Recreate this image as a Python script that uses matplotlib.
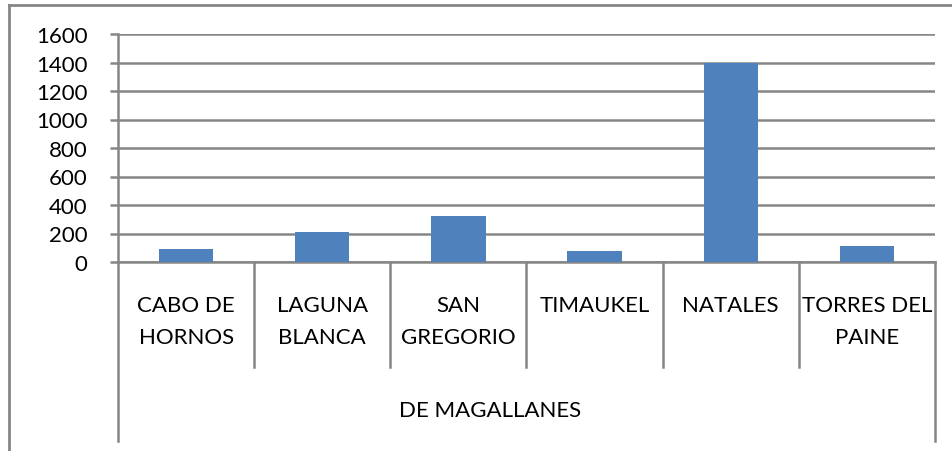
import matplotlib.pyplot as plt
from matplotlib.lines import Line2D

# data
comunas = ["CABO DE\nHORNOS", "LAGUNA\nBLANCA", "SAN\nGREGORIO", "TIMAUKEL", "NATALES", "TORRES DEL\nPAINE"]
valores = [94, 213, 321, 77, 1396, 112]
region = "DE MAGALLANES"
yticks = [0, 200, 400, 600, 800, 1000, 1200, 1400, 1600]

W, H = 953, 452
GRAY = "#868686"
BLUE = "#4F81BD"
plt.rcParams['font.family'] = ['Lato', 'DejaVu Sans']

fig = plt.figure(figsize=(W / 100, H / 100), dpi=100)

# plot area in pixel coordinates of the reference
left, right, top, bottom = 118, 935, 35, 263
ax = fig.add_axes([left / W, 1 - bottom / H, (right - left) / W, (bottom - top) / H])

x = list(range(len(comunas)))
ax.bar(x, valores, width=0.4, color=BLUE, zorder=3)

ax.set_xlim(-0.5, len(comunas) - 0.5)
ax.set_ylim(0, 1600)
ax.set_yticks(yticks)
ax.set_yticklabels([str(v) for v in yticks], fontsize=16)
ax.yaxis.grid(True, color=GRAY, linewidth=1.8, zorder=0)
ax.tick_params(axis='y', length=6, width=1.8, color=GRAY, pad=16)
ax.set_xticks([])

for side in ("top", "right"):
    ax.spines[side].set_visible(False)
for side in ("left", "bottom"):
    ax.spines[side].set_color(GRAY)
    ax.spines[side].set_linewidth(1.8)
ax.set_axisbelow(True)

# multi-level category axis
tr = ax.get_xaxis_transform()
inner_end = (bottom - 368) / (bottom - top)
outer_end = (bottom - 442) / (bottom - top)
for i in range(len(comunas) + 1):
    xb = i - 0.5
    yend = outer_end if i in (0, len(comunas)) else inner_end
    ax.plot([xb, xb], [0, yend], transform=tr, color=GRAY, linewidth=1.8, clip_on=False)

label_top = (bottom - 296) / (bottom - top)
for i, name in enumerate(comunas):
    ax.text(i, label_top, name, transform=tr, ha='center', va='top', fontsize=16,
            linespacing=1.75)

ax.text((490 - left) / (right - left), (bottom - 411) / (bottom - top), region,
        transform=ax.transAxes, ha='center', va='center', fontsize=16)

# outer chart border (top and left visible)
fig.add_artist(Line2D([9.5 / W, 1], [1 - 6 / H, 1 - 6 / H], color=GRAY, linewidth=2))
fig.add_artist(Line2D([9.5 / W, 9.5 / W], [0, 1 - 6 / H], color=GRAY, linewidth=2))

fig.savefig("out.png", dpi=100)
